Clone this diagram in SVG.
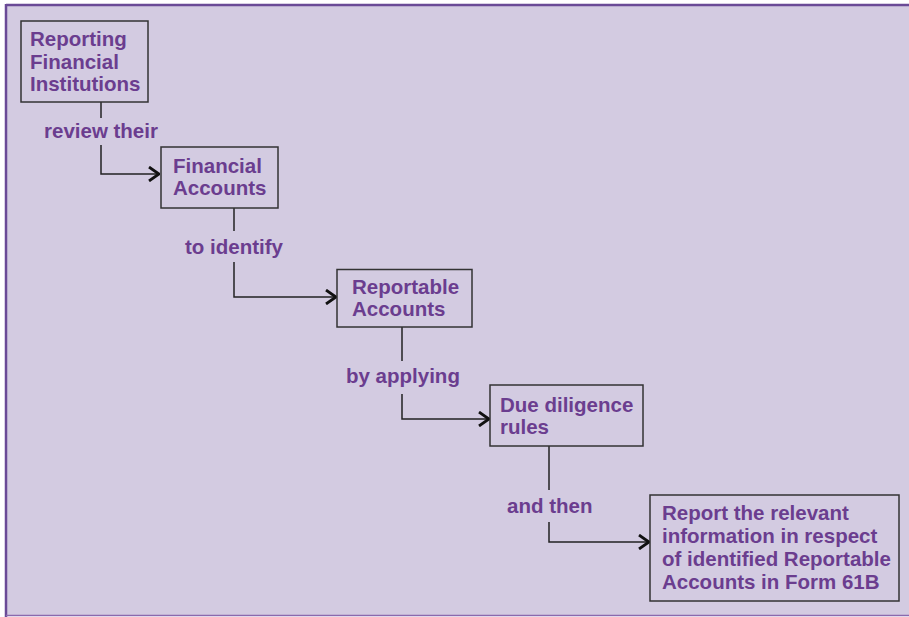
<svg xmlns="http://www.w3.org/2000/svg" width="909" height="617" viewBox="0 0 909 617">
<style>
.bg{fill:#d3cbe1}
.box{fill:none;stroke:#333;stroke-width:1.5}
.t{font-family:"Liberation Sans",Arial,sans-serif;font-weight:bold;font-size:20.5px;fill:#6b3d8f}
.c{fill:none;stroke:#222;stroke-width:1.5}
</style>
<defs>
<marker id="ah" viewBox="0 0 12 16" refX="11" refY="8" markerWidth="12" markerHeight="16" markerUnits="userSpaceOnUse" orient="auto">
<path d="M1,1 L11,8 L1,15" fill="none" stroke="#111" stroke-width="2.8"/>
</marker>
</defs>
<rect class="bg" x="6" y="5" width="903" height="611"/>
<line x1="6" y1="5" x2="909" y2="5" stroke="#6a4a96" stroke-width="2.5"/>
<line x1="6" y1="4" x2="6" y2="617" stroke="#6a4a96" stroke-width="2.5"/>
<line x1="6" y1="615.5" x2="909" y2="615.5" stroke="#8a6aae" stroke-width="1.5"/>
<g id="connectors">
<path class="c" d="M101,102 V118"/>
<path class="c" d="M101,145 V174 H159" marker-end="url(#ah)"/>
<path class="c" d="M234,208 V231"/>
<path class="c" d="M234,262 V297 H336" marker-end="url(#ah)"/>
<path class="c" d="M402,327 V361"/>
<path class="c" d="M402,394 V419 H489" marker-end="url(#ah)"/>
<path class="c" d="M549,446 V490"/>
<path class="c" d="M549,522 V542 H649" marker-end="url(#ah)"/>
<text class="t" x="44" y="138">review their</text>
<text class="t" x="185" y="254">to identify</text>
<text class="t" x="346" y="383">by applying</text>
<text class="t" x="507" y="513">and then</text>
</g>
<g id="n1">
<rect class="box" x="21" y="21" width="127" height="81"/>
<text class="t" x="30" y="46">Reporting</text>
<text class="t" x="30" y="68.5">Financial</text>
<text class="t" x="30" y="91">Institutions</text>
</g>
<g id="n2">
<rect class="box" x="161" y="147" width="117" height="61"/>
<text class="t" x="173" y="173">Financial</text>
<text class="t" x="173" y="195">Accounts</text>
</g>
<g id="n3">
<rect class="box" x="337" y="269.5" width="135" height="57.5"/>
<text class="t" x="352" y="294">Reportable</text>
<text class="t" x="352" y="316">Accounts</text>
</g>
<g id="n4">
<rect class="box" x="490" y="385" width="153" height="61"/>
<text class="t" x="500" y="412">Due diligence</text>
<text class="t" x="500" y="434">rules</text>
</g>
<g id="n5">
<rect class="box" x="650" y="495" width="249" height="106"/>
<text class="t" x="662" y="520">Report the relevant</text>
<text class="t" x="662" y="543">information in respect</text>
<text class="t" x="662" y="566">of identified Reportable</text>
<text class="t" x="662" y="589">Accounts in Form 61B</text>
</g>
</svg>
